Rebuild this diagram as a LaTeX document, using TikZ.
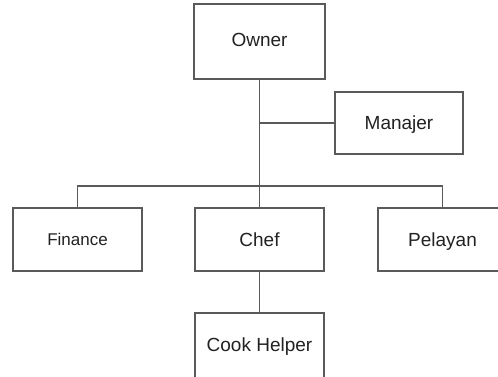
\documentclass[tikz,border=0pt]{standalone}
\usepackage{fontspec}
\setmainfont{Liberation Sans}
\begin{document}
\begin{tikzpicture}[x=1pt,y=-1pt,
  box/.style={draw=linegray,line width=1.1pt,rectangle,minimum width=129pt,minimum height=63pt,inner sep=0pt,font=\fontsize{19}{22}\selectfont,text=textdark,anchor=center,text height=13.6pt,text depth=0pt},
  conn/.style={draw=linegray,line width=1.1pt}]
\definecolor{linegray}{HTML}{5A5A5A}
\definecolor{textdark}{HTML}{222222}
\clip (0,0) rectangle (498,377);
\fill[white] (0,0) rectangle (498,377);
\node[box,minimum width=131pt,minimum height=75pt,text depth=3pt] (owner) at (259.5,41.5) {Owner};
\node[box,minimum width=128pt,minimum height=62pt] (manajer) at (399,123) {Manajer};
\node[box,font=\fontsize{17}{20}\selectfont,text height=12.2pt] (finance) at (77.5,239.5) {Finance};
\node[box] (chef) at (259.5,239.5) {Chef};
\node[box] (pelayan) at (442.5,239.5) {Pelayan};
\node[box,minimum height=68pt,text depth=4pt] (cook) at (259.5,347) {Cook Helper};
\coordinate (bus) at (259.5,186);
\draw[conn] (owner.south) -- (chef.north);
\draw[conn] (owner.south |- manajer.west) -- (manajer.west);
\draw[conn] (finance.north) |- (bus) -| (pelayan.north);
\draw[conn] (chef.south) -- (cook.north);
\end{tikzpicture}
\end{document}
